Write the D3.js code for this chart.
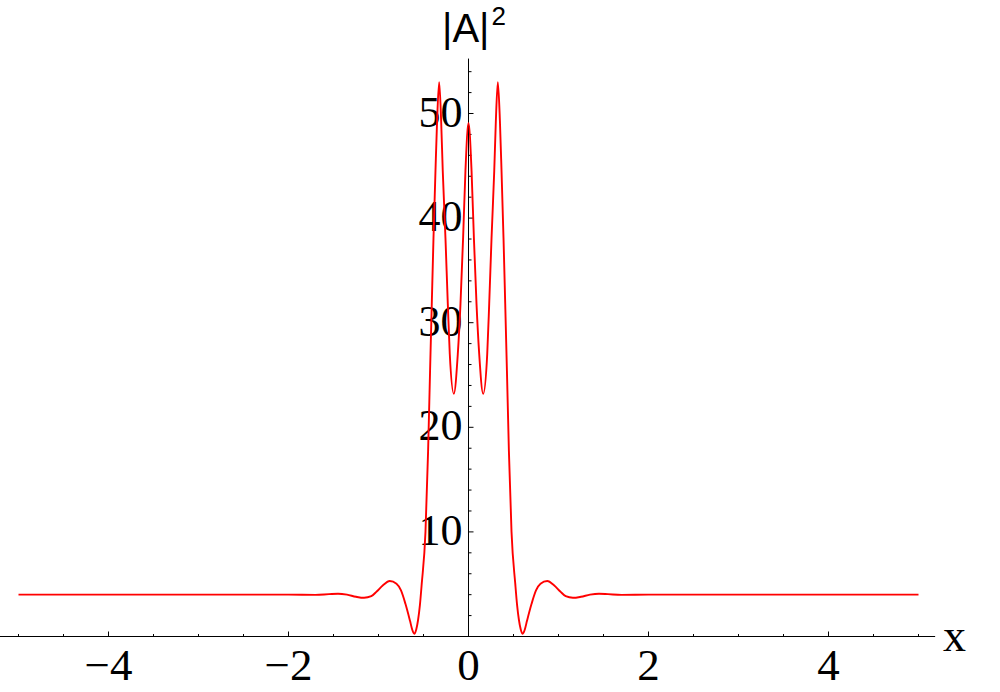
<!DOCTYPE html>
<html>
<head>
<meta charset="utf-8">
<script src="https://cdn.jsdelivr.net/npm/d3@7"></script>
<style>
  html, body { margin: 0; padding: 0; background: #fff; }
  svg { display: block; }
</style>
</head>
<body>
<svg id="chart" width="1000" height="692"></svg>
<script>
const xValues = [
  -5, -4, -3, -2, -1.7, -1.55, -1.45, -1.35, -1.25, -1.16, -1.08, -1.02, -0.95, -0.875,
  -0.8, -0.75, -0.7, -0.65, -0.625, -0.603, -0.58, -0.56, -0.54, -0.52, -0.478, -0.449,
  -0.427, -0.408, -0.389, -0.367, -0.349, -0.326, -0.304, -0.286, -0.256, -0.23, -0.208,
  -0.163, -0.119, -0.089, -0.06, -0.034,
  0,
  0.034, 0.06, 0.089, 0.119, 0.163, 0.208, 0.23, 0.256, 0.286, 0.304, 0.326, 0.349, 0.367,
  0.389, 0.408, 0.427, 0.449, 0.478, 0.52, 0.54, 0.56, 0.58, 0.603, 0.625, 0.65, 0.7, 0.75,
  0.8, 0.875, 0.95, 1.02, 1.08, 1.16, 1.25, 1.35, 1.45, 1.55, 1.7, 2, 3, 4, 5
];
const yValues = [
  4, 4, 4, 4, 3.98, 4.05, 4.09, 4.0, 3.8, 3.7, 3.85, 4.3, 4.9, 5.3,
  5.05, 4.4, 3.1, 1.5, 0.65, 0.27, 0.7, 1.6, 3.0, 5.0, 10, 17.7,
  25.4, 31.8, 38.1, 44.5, 49.3, 53.0, 49.3, 44.5, 38.1, 31.8, 27.0,
  23.2, 27.0, 31.8, 38.1, 44.5,
  49.1,
  44.5, 38.1, 31.8, 27.0, 23.2, 27.0, 31.8, 38.1, 44.5, 49.3, 53.0, 49.3, 44.5,
  38.1, 31.8, 25.4, 17.7, 10, 5.0, 3.0, 1.6, 0.7, 0.27, 0.65, 1.5, 3.1, 4.4,
  5.05, 5.3, 4.9, 4.3, 3.85, 3.7, 3.8, 4.0, 4.09, 4.05, 3.98, 4, 4, 4, 4
];
const xMajorTicks = [-4, -2, 0, 2, 4];
const xTickLabels = ["\u22124", "\u22122", "0", "2", "4"];
const xMinorTicks = [-5, -4.5, -3.5, -3, -2.5, -1.5, -1, -0.5, 0.5, 1, 1.5, 2.5, 3, 3.5, 4.5, 5];
const yMajorTicks = [10, 20, 30, 40, 50];
const yTickLabels = ["10", "20", "30", "40", "50"];
const yMinorTicks = [2, 4, 6, 8, 12, 14, 16, 18, 22, 24, 26, 28, 32, 34, 36, 38, 42, 44, 46, 48, 52, 54];

const svg = d3.select("#chart");
const x = d3.scaleLinear().domain([-5, 5]).range([18.5, 918.5]);
const y = d3.scaleLinear().domain([0, 50]).range([636.5, 113.5]);

const serif = "'Liberation Serif', 'Times New Roman', serif";
const sans = "'Liberation Sans', Arial, sans-serif";

// X axis line
svg.append("line")
  .attr("x1", 0).attr("x2", x(5.185))
  .attr("y1", y(0)).attr("y2", y(0))
  .attr("stroke", "#000").attr("stroke-width", 1);

// Y axis line
svg.append("line")
  .attr("x1", x(0)).attr("x2", x(0))
  .attr("y1", y(0)).attr("y2", y(55.25))
  .attr("stroke", "#000").attr("stroke-width", 1);

// X ticks (pointing up)
svg.selectAll(".xmaj").data(xMajorTicks.filter(d => d !== 0)).enter().append("line")
  .attr("x1", d => x(d)).attr("x2", d => x(d))
  .attr("y1", y(0)).attr("y2", y(0) - 5)
  .attr("stroke", "#000").attr("stroke-width", 1);
svg.selectAll(".xmin").data(xMinorTicks).enter().append("line")
  .attr("x1", d => x(d)).attr("x2", d => x(d))
  .attr("y1", y(0)).attr("y2", y(0) - 2.5)
  .attr("stroke", "#000").attr("stroke-width", 1);

// Y ticks (pointing right)
svg.selectAll(".ymaj").data(yMajorTicks).enter().append("line")
  .attr("x1", x(0)).attr("x2", x(0) + 5)
  .attr("y1", d => y(d)).attr("y2", d => y(d))
  .attr("stroke", "#000").attr("stroke-width", 1);
svg.selectAll(".ymin").data(yMinorTicks).enter().append("line")
  .attr("x1", x(0)).attr("x2", x(0) + 3)
  .attr("y1", d => y(d)).attr("y2", d => y(d))
  .attr("stroke", "#000").attr("stroke-width", 1);

// X tick labels
svg.selectAll(".xlab").data(xMajorTicks).enter().append("text")
  .attr("x", d => x(d)).attr("y", y(0) + 43)
  .attr("text-anchor", "middle")
  .attr("font-family", serif).attr("font-size", 45)
  .text((d, i) => xTickLabels[i]);

// Y tick labels
svg.selectAll(".ylab").data(yMajorTicks).enter().append("text")
  .attr("x", x(0) - 6).attr("y", d => y(d) + 13)
  .attr("text-anchor", "end")
  .attr("font-family", serif).attr("font-size", 44)
  .text((d, i) => yTickLabels[i]);

// Axis labels
svg.append("text")
  .attr("x", 943).attr("y", 651)
  .attr("font-family", serif).attr("font-size", 46)
  .text("x");

const yl = svg.append("text")
  .attr("x", 442).attr("y", 42)
  .attr("font-family", sans).attr("font-size", 40);
yl.append("tspan").text("|A|");
yl.append("tspan").attr("font-size", 26).attr("dy", -17).attr("dx", 2).text("2");

// Curve
const pts = xValues.map((v, i) => [v, yValues[i]]);
const line = d3.line()
  .x(d => x(d[0]))
  .y(d => y(d[1]))
  .curve(d3.curveMonotoneX);
svg.append("path")
  .datum(pts)
  .attr("d", line)
  .attr("fill", "none")
  .attr("stroke", "#ff0000")
  .attr("stroke-width", 1.9)
  .attr("stroke-linejoin", "round");
</script>
</body>
</html>
